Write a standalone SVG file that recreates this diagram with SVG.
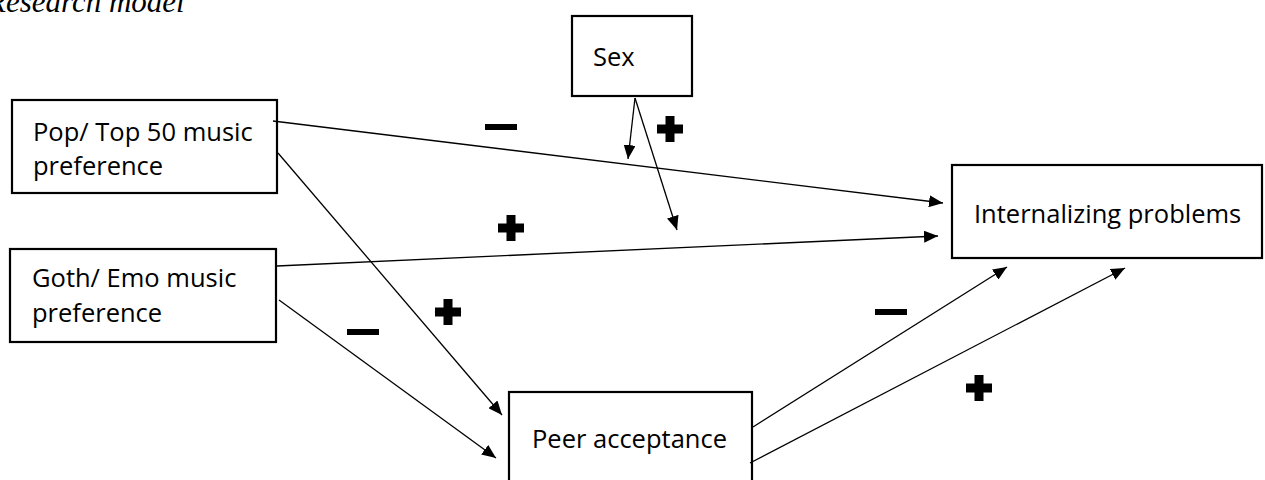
<svg xmlns="http://www.w3.org/2000/svg" width="1265" height="480" viewBox="0 0 1265 480">
<style>
.box{fill:#fff;stroke:#000;stroke-width:2.2}
.lbl{font-family:"Open Sans","Noto Sans",sans-serif;font-size:25.5px;fill:#000}
.con line{stroke:#000;stroke-width:1.3}
.sign{fill:#000}
.title{font-family:"Liberation Serif",serif;font-style:italic;font-size:31px;fill:#000}
</style>
<defs>
<marker id="ah" viewBox="0 0 14 12" refX="14" refY="6" markerWidth="14" markerHeight="12" markerUnits="userSpaceOnUse" orient="auto">
<path d="M0,0 L14,6 L0,12 Z" fill="#000"/>
</marker>
<path id="plus" d="M-4.5,-13 H4.5 V-4.5 H13 V4.5 H4.5 V13 H-4.5 V4.5 H-13 V-4.5 H-4.5 Z"/>
</defs>
<text class="title" x="-13" y="12">Research model</text>
<g id="sex"><rect class="box" x="572" y="16" width="120" height="80"/><text class="lbl" x="593" y="66">Sex</text></g>
<g id="pop"><rect class="box" x="12" y="100" width="265" height="93"/><text class="lbl" x="33" y="141">Pop/ Top 50 music</text><text class="lbl" x="33" y="175">preference</text></g>
<g id="goth"><rect class="box" x="10" y="249" width="266" height="93"/><text class="lbl" x="32" y="287">Goth/ Emo music</text><text class="lbl" x="32" y="322">preference</text></g>
<g id="internalizing"><rect class="box" x="952" y="165" width="310" height="93"/><text class="lbl" x="974" y="223">Internalizing problems</text></g>
<g id="peer"><rect class="box" x="509" y="392" width="243" height="100"/><text class="lbl" x="532" y="448">Peer acceptance</text></g>
<g id="connectors" class="con">
<line x1="273" y1="121" x2="943" y2="203" marker-end="url(#ah)"/>
<line x1="277" y1="266" x2="938" y2="236" marker-end="url(#ah)"/>
<line x1="278" y1="153" x2="502" y2="415" marker-end="url(#ah)"/>
<line x1="279" y1="300" x2="496" y2="458" marker-end="url(#ah)"/>
<line x1="753" y1="427" x2="1007" y2="267" marker-end="url(#ah)"/>
<line x1="750" y1="463" x2="1125" y2="268" marker-end="url(#ah)"/>
<line x1="635" y1="98" x2="628" y2="159" marker-end="url(#ah)"/>
<line x1="635" y1="98" x2="677" y2="230" marker-end="url(#ah)"/>
</g>
<g id="signs" class="sign">
<rect x="485" y="124" width="32" height="6"/>
<rect x="347" y="329" width="32" height="6"/>
<rect x="875" y="309" width="32" height="6"/>
<use href="#plus" x="670" y="129"/>
<use href="#plus" x="511" y="228"/>
<use href="#plus" x="448" y="312"/>
<use href="#plus" x="979" y="388"/>
</g>
</svg>
